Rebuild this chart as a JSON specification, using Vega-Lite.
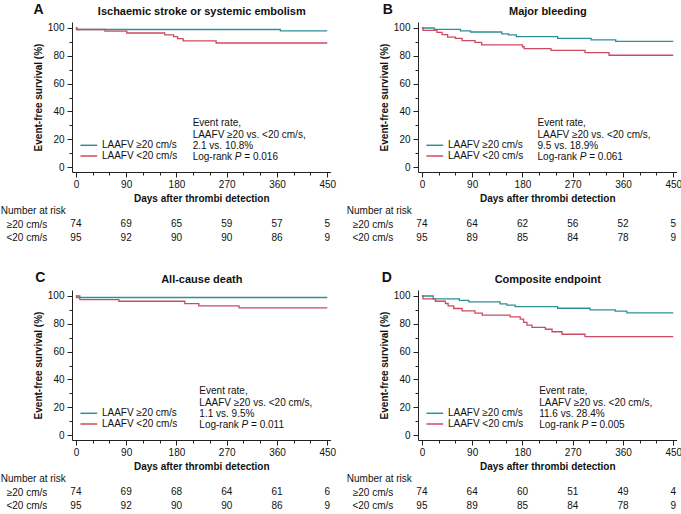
{
  "$schema": "https://vega.github.io/schema/vega-lite/v6.json",
  "padding": {"left": 0, "top": 2, "right": 0, "bottom": 0},
  "config": {
    "font": "Liberation Sans",
    "view": {"stroke": null},
    "axis": {
      "grid": false, "labelFontSize": 10, "titleFontSize": 10, "titleFontWeight": "bold",
      "domainColor": "#222", "tickColor": "#222", "labelColor": "#111", "titleColor": "#111",
      "labelFlush": false, "labelOverlap": false, "labelPadding": 2, "titlePadding": 4
    },
    "axisY": {"labelPadding": 3},
    "legend": {
      "orient": "none", "legendX": 11.8, "legendY": 118.3, "padding": 0, "rowPadding": 0.7,
      "labelFontSize": 10, "labelColor": "#111", "symbolType": "M-2,0H2", "symbolSize": 70,
      "symbolStrokeWidth": 1.5, "labelOffset": 8.1
    },
    "text": {"fontSize": 10, "color": "#111", "align": "left", "baseline": "middle"}
  },
  "datasets": {
    "km": [
      {"panel": "A", "group": "≥20 cm/s", "day": 0, "surv": 100},
      {"panel": "A", "group": "≥20 cm/s", "day": 2, "surv": 98.9},
      {"panel": "A", "group": "≥20 cm/s", "day": 366, "surv": 97.9},
      {"panel": "A", "group": "≥20 cm/s", "day": 450, "surv": 97.9},
      {"panel": "A", "group": "<20 cm/s", "day": 0, "surv": 100},
      {"panel": "A", "group": "<20 cm/s", "day": 1, "surv": 98.9},
      {"panel": "A", "group": "<20 cm/s", "day": 52, "surv": 97.7},
      {"panel": "A", "group": "<20 cm/s", "day": 91, "surv": 96.4},
      {"panel": "A", "group": "<20 cm/s", "day": 159, "surv": 95.1},
      {"panel": "A", "group": "<20 cm/s", "day": 175, "surv": 93.8},
      {"panel": "A", "group": "<20 cm/s", "day": 182, "surv": 92.3},
      {"panel": "A", "group": "<20 cm/s", "day": 192, "surv": 90.8},
      {"panel": "A", "group": "<20 cm/s", "day": 251, "surv": 89.2},
      {"panel": "A", "group": "<20 cm/s", "day": 450, "surv": 89.2},
      {"panel": "B", "group": "≥20 cm/s", "day": 0, "surv": 100},
      {"panel": "B", "group": "≥20 cm/s", "day": 22, "surv": 99},
      {"panel": "B", "group": "≥20 cm/s", "day": 69, "surv": 97.9},
      {"panel": "B", "group": "≥20 cm/s", "day": 87, "surv": 97.1},
      {"panel": "B", "group": "≥20 cm/s", "day": 143, "surv": 95.8},
      {"panel": "B", "group": "≥20 cm/s", "day": 155, "surv": 95},
      {"panel": "B", "group": "≥20 cm/s", "day": 169, "surv": 93.8},
      {"panel": "B", "group": "≥20 cm/s", "day": 243, "surv": 92.6},
      {"panel": "B", "group": "≥20 cm/s", "day": 303, "surv": 91.4},
      {"panel": "B", "group": "≥20 cm/s", "day": 347, "surv": 90.4},
      {"panel": "B", "group": "≥20 cm/s", "day": 450, "surv": 90.4},
      {"panel": "B", "group": "<20 cm/s", "day": 0, "surv": 100},
      {"panel": "B", "group": "<20 cm/s", "day": 2, "surv": 98.3},
      {"panel": "B", "group": "<20 cm/s", "day": 27, "surv": 96.9},
      {"panel": "B", "group": "<20 cm/s", "day": 36, "surv": 95.2},
      {"panel": "B", "group": "<20 cm/s", "day": 46, "surv": 93.5},
      {"panel": "B", "group": "<20 cm/s", "day": 60, "surv": 92.6},
      {"panel": "B", "group": "<20 cm/s", "day": 72, "surv": 90.9},
      {"panel": "B", "group": "<20 cm/s", "day": 95, "surv": 89.7},
      {"panel": "B", "group": "<20 cm/s", "day": 107, "surv": 87.8},
      {"panel": "B", "group": "<20 cm/s", "day": 180, "surv": 86.5},
      {"panel": "B", "group": "<20 cm/s", "day": 183, "surv": 85.2},
      {"panel": "B", "group": "<20 cm/s", "day": 231, "surv": 83.9},
      {"panel": "B", "group": "<20 cm/s", "day": 292, "surv": 82.3},
      {"panel": "B", "group": "<20 cm/s", "day": 335, "surv": 80.4},
      {"panel": "B", "group": "<20 cm/s", "day": 450, "surv": 80.4},
      {"panel": "C", "group": "≥20 cm/s", "day": 0, "surv": 100},
      {"panel": "C", "group": "≥20 cm/s", "day": 7, "surv": 98.9},
      {"panel": "C", "group": "≥20 cm/s", "day": 450, "surv": 98.9},
      {"panel": "C", "group": "<20 cm/s", "day": 0, "surv": 100},
      {"panel": "C", "group": "<20 cm/s", "day": 1, "surv": 98.9},
      {"panel": "C", "group": "<20 cm/s", "day": 7, "surv": 97.4},
      {"panel": "C", "group": "<20 cm/s", "day": 77, "surv": 96.2},
      {"panel": "C", "group": "<20 cm/s", "day": 195, "surv": 94.5},
      {"panel": "C", "group": "<20 cm/s", "day": 220, "surv": 92.9},
      {"panel": "C", "group": "<20 cm/s", "day": 292, "surv": 91.4},
      {"panel": "C", "group": "<20 cm/s", "day": 450, "surv": 91.4},
      {"panel": "D", "group": "≥20 cm/s", "day": 0, "surv": 100},
      {"panel": "D", "group": "≥20 cm/s", "day": 20, "surv": 97.9},
      {"panel": "D", "group": "≥20 cm/s", "day": 67, "surv": 96.8},
      {"panel": "D", "group": "≥20 cm/s", "day": 84, "surv": 95.7},
      {"panel": "D", "group": "≥20 cm/s", "day": 140, "surv": 94.3},
      {"panel": "D", "group": "≥20 cm/s", "day": 152, "surv": 93.4},
      {"panel": "D", "group": "≥20 cm/s", "day": 167, "surv": 92.4},
      {"panel": "D", "group": "≥20 cm/s", "day": 243, "surv": 91.2},
      {"panel": "D", "group": "≥20 cm/s", "day": 301, "surv": 90},
      {"panel": "D", "group": "≥20 cm/s", "day": 346, "surv": 89.1},
      {"panel": "D", "group": "≥20 cm/s", "day": 367, "surv": 87.9},
      {"panel": "D", "group": "≥20 cm/s", "day": 450, "surv": 87.9},
      {"panel": "D", "group": "<20 cm/s", "day": 0, "surv": 100},
      {"panel": "D", "group": "<20 cm/s", "day": 2, "surv": 97.9},
      {"panel": "D", "group": "<20 cm/s", "day": 24, "surv": 96.2},
      {"panel": "D", "group": "<20 cm/s", "day": 42, "surv": 94.6},
      {"panel": "D", "group": "<20 cm/s", "day": 47, "surv": 92.9},
      {"panel": "D", "group": "<20 cm/s", "day": 57, "surv": 91},
      {"panel": "D", "group": "<20 cm/s", "day": 72, "surv": 89.3},
      {"panel": "D", "group": "<20 cm/s", "day": 95, "surv": 87.7},
      {"panel": "D", "group": "<20 cm/s", "day": 108, "surv": 86.2},
      {"panel": "D", "group": "<20 cm/s", "day": 158, "surv": 85},
      {"panel": "D", "group": "<20 cm/s", "day": 176, "surv": 83.4},
      {"panel": "D", "group": "<20 cm/s", "day": 182, "surv": 81},
      {"panel": "D", "group": "<20 cm/s", "day": 188, "surv": 79.1},
      {"panel": "D", "group": "<20 cm/s", "day": 197, "surv": 77.5},
      {"panel": "D", "group": "<20 cm/s", "day": 221, "surv": 76.1},
      {"panel": "D", "group": "<20 cm/s", "day": 233, "surv": 74.3},
      {"panel": "D", "group": "<20 cm/s", "day": 251, "surv": 72.5},
      {"panel": "D", "group": "<20 cm/s", "day": 292, "surv": 70.8},
      {"panel": "D", "group": "<20 cm/s", "day": 450, "surv": 70.8}
    ],
    "risk": [
      {"panel": "A", "group": "≥20 cm/s", "day": 0, "n": 74},
      {"panel": "A", "group": "≥20 cm/s", "day": 90, "n": 69},
      {"panel": "A", "group": "≥20 cm/s", "day": 180, "n": 65},
      {"panel": "A", "group": "≥20 cm/s", "day": 270, "n": 59},
      {"panel": "A", "group": "≥20 cm/s", "day": 360, "n": 57},
      {"panel": "A", "group": "≥20 cm/s", "day": 450, "n": 5},
      {"panel": "A", "group": "<20 cm/s", "day": 0, "n": 95},
      {"panel": "A", "group": "<20 cm/s", "day": 90, "n": 92},
      {"panel": "A", "group": "<20 cm/s", "day": 180, "n": 90},
      {"panel": "A", "group": "<20 cm/s", "day": 270, "n": 90},
      {"panel": "A", "group": "<20 cm/s", "day": 360, "n": 86},
      {"panel": "A", "group": "<20 cm/s", "day": 450, "n": 9},
      {"panel": "B", "group": "≥20 cm/s", "day": 0, "n": 74},
      {"panel": "B", "group": "≥20 cm/s", "day": 90, "n": 64},
      {"panel": "B", "group": "≥20 cm/s", "day": 180, "n": 62},
      {"panel": "B", "group": "≥20 cm/s", "day": 270, "n": 56},
      {"panel": "B", "group": "≥20 cm/s", "day": 360, "n": 52},
      {"panel": "B", "group": "≥20 cm/s", "day": 450, "n": 5},
      {"panel": "B", "group": "<20 cm/s", "day": 0, "n": 95},
      {"panel": "B", "group": "<20 cm/s", "day": 90, "n": 89},
      {"panel": "B", "group": "<20 cm/s", "day": 180, "n": 85},
      {"panel": "B", "group": "<20 cm/s", "day": 270, "n": 84},
      {"panel": "B", "group": "<20 cm/s", "day": 360, "n": 78},
      {"panel": "B", "group": "<20 cm/s", "day": 450, "n": 9},
      {"panel": "C", "group": "≥20 cm/s", "day": 0, "n": 74},
      {"panel": "C", "group": "≥20 cm/s", "day": 90, "n": 69},
      {"panel": "C", "group": "≥20 cm/s", "day": 180, "n": 68},
      {"panel": "C", "group": "≥20 cm/s", "day": 270, "n": 64},
      {"panel": "C", "group": "≥20 cm/s", "day": 360, "n": 61},
      {"panel": "C", "group": "≥20 cm/s", "day": 450, "n": 6},
      {"panel": "C", "group": "<20 cm/s", "day": 0, "n": 95},
      {"panel": "C", "group": "<20 cm/s", "day": 90, "n": 92},
      {"panel": "C", "group": "<20 cm/s", "day": 180, "n": 90},
      {"panel": "C", "group": "<20 cm/s", "day": 270, "n": 90},
      {"panel": "C", "group": "<20 cm/s", "day": 360, "n": 86},
      {"panel": "C", "group": "<20 cm/s", "day": 450, "n": 9},
      {"panel": "D", "group": "≥20 cm/s", "day": 0, "n": 74},
      {"panel": "D", "group": "≥20 cm/s", "day": 90, "n": 64},
      {"panel": "D", "group": "≥20 cm/s", "day": 180, "n": 60},
      {"panel": "D", "group": "≥20 cm/s", "day": 270, "n": 51},
      {"panel": "D", "group": "≥20 cm/s", "day": 360, "n": 49},
      {"panel": "D", "group": "≥20 cm/s", "day": 450, "n": 4},
      {"panel": "D", "group": "<20 cm/s", "day": 0, "n": 95},
      {"panel": "D", "group": "<20 cm/s", "day": 90, "n": 89},
      {"panel": "D", "group": "<20 cm/s", "day": 180, "n": 85},
      {"panel": "D", "group": "<20 cm/s", "day": 270, "n": 84},
      {"panel": "D", "group": "<20 cm/s", "day": 360, "n": 78},
      {"panel": "D", "group": "<20 cm/s", "day": 450, "n": 9}
    ],
    "notes": [
      {"panel": "A", "letter": "A", "rate": "2.1 vs. 10.8%", "p": "= 0.016"},
      {"panel": "B", "letter": "B", "rate": "9.5 vs. 18.9%", "p": "= 0.061"},
      {"panel": "C", "letter": "C", "rate": "1.1 vs. 9.5%", "p": "= 0.011"},
      {"panel": "D", "letter": "D", "rate": "11.6 vs. 28.4%", "p": "= 0.005"}
    ]
  },
  "spacing": 25,
  "resolve": {"scale": {"color": "independent"}, "legend": {"color": "independent"}},
  "vconcat": [
    {
      "spacing": 10,
      "resolve": {"scale": {"color": "independent"}, "legend": {"color": "independent"}},
      "hconcat": [
        {
          "spacing": 1,
          "resolve": {"scale": {"color": "independent"}, "legend": {"color": "independent"}},
          "vconcat": [
            {
              "width": 258.6, "height": 150,
              "resolve": {"axis": {"x": "independent", "y": "independent"}},
              "layer": [
                {
                  "data": {"name": "km"},
                  "transform": [{"filter": "datum.panel == 'A'"}],
                  "mark": {"type": "line", "interpolate": "step-after", "strokeWidth": 1.3},
                  "encoding": {
                    "x": {"field": "day", "type": "quantitative", "scale": {"domain": [-7, 456], "nice": false, "zero": false},
                      "axis": {"values": [0, 30, 60, 90, 120, 150, 180, 210, 240, 270, 300, 330, 360, 390, 420, 450], "labelExpr": "datum.value % 90 === 0 ? datum.label : ''", "tickSize": {"condition": {"test": "datum.value % 90 === 0", "value": 5}, "value": 3}, "title": "Days after thrombi detection"}},
                    "y": {"field": "surv", "type": "quantitative", "scale": {"domain": [-3.5, 104.3], "nice": false, "zero": false},
                      "axis": {"values": [0, 10, 20, 30, 40, 50, 60, 70, 80, 90, 100], "labelExpr": "datum.value % 20 === 0 ? datum.label : ''", "tickSize": {"condition": {"test": "datum.value % 20 === 0", "value": 5}, "value": 3}, "title": "Event-free survival (%)"}},
                    "color": {"field": "group", "type": "nominal", "scale": {"domain": ["≥20 cm/s", "<20 cm/s"], "range": ["#2f8f99", "#cc4b62"]}, "legend": {"title": null, "labelExpr": "'LAAFV ' + datum.label"}}
                  }
                },
                {
                  "data": {"name": "notes"}, "transform": [{"filter": "datum.panel == 'A'"}],
                  "mark": {"type": "text", "fontSize": 14, "fontWeight": "bold"},
                  "encoding": {
                    "x": {"datum": -76, "type": "quantitative", "axis": {"orient": "top", "domain": false, "ticks": false, "labels": false, "title": "Ischaemic stroke or systemic embolism", "titleFontSize": 11, "titlePadding": 6}},
                    "y": {"datum": 113.2, "type": "quantitative", "axis": null},
                    "text": {"field": "letter"}
                  }
                },
                {
                  "data": {"name": "notes"}, "transform": [{"filter": "datum.panel == 'A'"}],
                  "mark": {"type": "text", "text": "Event rate,"},
                  "encoding": {"x": {"datum": 209, "type": "quantitative", "axis": null}, "y": {"datum": 31.5, "type": "quantitative", "axis": null}}
                },
                {
                  "data": {"name": "notes"}, "transform": [{"filter": "datum.panel == 'A'"}],
                  "mark": {"type": "text", "text": "LAAFV ≥20 vs. <20 cm/s,"},
                  "encoding": {"x": {"datum": 209, "type": "quantitative", "axis": null}, "y": {"datum": 23.4, "type": "quantitative", "axis": null}}
                },
                {
                  "data": {"name": "notes"}, "transform": [{"filter": "datum.panel == 'A'"}],
                  "mark": {"type": "text"},
                  "encoding": {"x": {"datum": 209, "type": "quantitative", "axis": null}, "y": {"datum": 15.2, "type": "quantitative", "axis": null}, "text": {"field": "rate"}}
                },
                {
                  "data": {"name": "notes"}, "transform": [{"filter": "datum.panel == 'A'"}],
                  "mark": {"type": "text", "text": "Log-rank"},
                  "encoding": {"x": {"datum": 209, "type": "quantitative", "axis": null}, "y": {"datum": 7.2, "type": "quantitative", "axis": null}}
                },
                {
                  "data": {"name": "notes"}, "transform": [{"filter": "datum.panel == 'A'"}],
                  "mark": {"type": "text", "text": "P", "fontStyle": "italic", "dx": 42.2},
                  "encoding": {"x": {"datum": 209, "type": "quantitative", "axis": null}, "y": {"datum": 7.2, "type": "quantitative", "axis": null}}
                },
                {
                  "data": {"name": "notes"}, "transform": [{"filter": "datum.panel == 'A'"}],
                  "mark": {"type": "text", "dx": 51.7},
                  "encoding": {"x": {"datum": 209, "type": "quantitative", "axis": null}, "y": {"datum": 7.2, "type": "quantitative", "axis": null}, "text": {"field": "p"}}
                }
              ]
            },
            {
              "width": 258.6, "height": 40.2,
              "data": {"name": "risk"}, "transform": [{"filter": "datum.panel == 'A'"}],
              "mark": {"type": "text", "align": "center"},
              "encoding": {
                "x": {"field": "day", "type": "quantitative", "scale": {"domain": [-7, 456], "nice": false, "zero": false}, "axis": null},
                "y": {"field": "group", "type": "nominal", "scale": {"type": "point", "domain": ["Number at risk", "≥20 cm/s", "<20 cm/s"], "padding": 0.5},
                  "axis": {"title": null, "domain": false, "ticks": false, "tickSize": 0,
                    "labelAlign": {"condition": {"test": "datum.value === 'Number at risk'", "value": "left"}, "value": "right"},
                    "labelPadding": {"condition": {"test": "datum.value === 'Number at risk'", "value": 71.7}, "value": 25.2}}},
                "text": {"field": "n", "type": "quantitative"}
              }
            }
          ]
        },
        {
          "spacing": 1,
          "resolve": {"scale": {"color": "independent"}, "legend": {"color": "independent"}},
          "vconcat": [
            {
              "width": 258.6, "height": 150,
              "resolve": {"axis": {"x": "independent", "y": "independent"}},
              "layer": [
                {
                  "data": {"name": "km"},
                  "transform": [{"filter": "datum.panel == 'B'"}],
                  "mark": {"type": "line", "interpolate": "step-after", "strokeWidth": 1.3},
                  "encoding": {
                    "x": {"field": "day", "type": "quantitative", "scale": {"domain": [-7, 456], "nice": false, "zero": false},
                      "axis": {"values": [0, 30, 60, 90, 120, 150, 180, 210, 240, 270, 300, 330, 360, 390, 420, 450], "labelExpr": "datum.value % 90 === 0 ? datum.label : ''", "tickSize": {"condition": {"test": "datum.value % 90 === 0", "value": 5}, "value": 3}, "title": "Days after thrombi detection"}},
                    "y": {"field": "surv", "type": "quantitative", "scale": {"domain": [-3.5, 104.3], "nice": false, "zero": false},
                      "axis": {"values": [0, 10, 20, 30, 40, 50, 60, 70, 80, 90, 100], "labelExpr": "datum.value % 20 === 0 ? datum.label : ''", "tickSize": {"condition": {"test": "datum.value % 20 === 0", "value": 5}, "value": 3}, "title": "Event-free survival (%)"}},
                    "color": {"field": "group", "type": "nominal", "scale": {"domain": ["≥20 cm/s", "<20 cm/s"], "range": ["#2f8f99", "#cc4b62"]}, "legend": {"title": null, "labelExpr": "'LAAFV ' + datum.label"}}
                  }
                },
                {
                  "data": {"name": "notes"}, "transform": [{"filter": "datum.panel == 'B'"}],
                  "mark": {"type": "text", "fontSize": 14, "fontWeight": "bold"},
                  "encoding": {
                    "x": {"datum": -70, "type": "quantitative", "axis": {"orient": "top", "domain": false, "ticks": false, "labels": false, "title": "Major bleeding", "titleFontSize": 11, "titlePadding": 6}},
                    "y": {"datum": 113.2, "type": "quantitative", "axis": null},
                    "text": {"field": "letter"}
                  }
                },
                {
                  "data": {"name": "notes"}, "transform": [{"filter": "datum.panel == 'B'"}],
                  "mark": {"type": "text", "text": "Event rate,"},
                  "encoding": {"x": {"datum": 207, "type": "quantitative", "axis": null}, "y": {"datum": 31.5, "type": "quantitative", "axis": null}}
                },
                {
                  "data": {"name": "notes"}, "transform": [{"filter": "datum.panel == 'B'"}],
                  "mark": {"type": "text", "text": "LAAFV ≥20 vs. <20 cm/s,"},
                  "encoding": {"x": {"datum": 207, "type": "quantitative", "axis": null}, "y": {"datum": 23.4, "type": "quantitative", "axis": null}}
                },
                {
                  "data": {"name": "notes"}, "transform": [{"filter": "datum.panel == 'B'"}],
                  "mark": {"type": "text"},
                  "encoding": {"x": {"datum": 207, "type": "quantitative", "axis": null}, "y": {"datum": 15.2, "type": "quantitative", "axis": null}, "text": {"field": "rate"}}
                },
                {
                  "data": {"name": "notes"}, "transform": [{"filter": "datum.panel == 'B'"}],
                  "mark": {"type": "text", "text": "Log-rank"},
                  "encoding": {"x": {"datum": 207, "type": "quantitative", "axis": null}, "y": {"datum": 7.2, "type": "quantitative", "axis": null}}
                },
                {
                  "data": {"name": "notes"}, "transform": [{"filter": "datum.panel == 'B'"}],
                  "mark": {"type": "text", "text": "P", "fontStyle": "italic", "dx": 42.2},
                  "encoding": {"x": {"datum": 207, "type": "quantitative", "axis": null}, "y": {"datum": 7.2, "type": "quantitative", "axis": null}}
                },
                {
                  "data": {"name": "notes"}, "transform": [{"filter": "datum.panel == 'B'"}],
                  "mark": {"type": "text", "dx": 51.7},
                  "encoding": {"x": {"datum": 207, "type": "quantitative", "axis": null}, "y": {"datum": 7.2, "type": "quantitative", "axis": null}, "text": {"field": "p"}}
                }
              ]
            },
            {
              "width": 258.6, "height": 40.2,
              "data": {"name": "risk"}, "transform": [{"filter": "datum.panel == 'B'"}],
              "mark": {"type": "text", "align": "center"},
              "encoding": {
                "x": {"field": "day", "type": "quantitative", "scale": {"domain": [-7, 456], "nice": false, "zero": false}, "axis": null},
                "y": {"field": "group", "type": "nominal", "scale": {"type": "point", "domain": ["Number at risk", "≥20 cm/s", "<20 cm/s"], "padding": 0.5},
                  "axis": {"title": null, "domain": false, "ticks": false, "tickSize": 0,
                    "labelAlign": {"condition": {"test": "datum.value === 'Number at risk'", "value": "left"}, "value": "right"},
                    "labelPadding": {"condition": {"test": "datum.value === 'Number at risk'", "value": 71.7}, "value": 25.2}}},
                "text": {"field": "n", "type": "quantitative"}
              }
            }
          ]
        }
      ]
    },
    {
      "spacing": 10,
      "resolve": {"scale": {"color": "independent"}, "legend": {"color": "independent"}},
      "hconcat": [
        {
          "spacing": 1,
          "resolve": {"scale": {"color": "independent"}, "legend": {"color": "independent"}},
          "vconcat": [
            {
              "width": 258.6, "height": 150,
              "resolve": {"axis": {"x": "independent", "y": "independent"}},
              "layer": [
                {
                  "data": {"name": "km"},
                  "transform": [{"filter": "datum.panel == 'C'"}],
                  "mark": {"type": "line", "interpolate": "step-after", "strokeWidth": 1.3},
                  "encoding": {
                    "x": {"field": "day", "type": "quantitative", "scale": {"domain": [-7, 456], "nice": false, "zero": false},
                      "axis": {"values": [0, 30, 60, 90, 120, 150, 180, 210, 240, 270, 300, 330, 360, 390, 420, 450], "labelExpr": "datum.value % 90 === 0 ? datum.label : ''", "tickSize": {"condition": {"test": "datum.value % 90 === 0", "value": 5}, "value": 3}, "title": "Days after thrombi detection"}},
                    "y": {"field": "surv", "type": "quantitative", "scale": {"domain": [-3.5, 104.3], "nice": false, "zero": false},
                      "axis": {"values": [0, 10, 20, 30, 40, 50, 60, 70, 80, 90, 100], "labelExpr": "datum.value % 20 === 0 ? datum.label : ''", "tickSize": {"condition": {"test": "datum.value % 20 === 0", "value": 5}, "value": 3}, "title": "Event-free survival (%)"}},
                    "color": {"field": "group", "type": "nominal", "scale": {"domain": ["≥20 cm/s", "<20 cm/s"], "range": ["#2f8f99", "#cc4b62"]}, "legend": {"title": null, "labelExpr": "'LAAFV ' + datum.label"}}
                  }
                },
                {
                  "data": {"name": "notes"}, "transform": [{"filter": "datum.panel == 'C'"}],
                  "mark": {"type": "text", "fontSize": 14, "fontWeight": "bold"},
                  "encoding": {
                    "x": {"datum": -73, "type": "quantitative", "axis": {"orient": "top", "domain": false, "ticks": false, "labels": false, "title": "All-cause death", "titleFontSize": 11, "titlePadding": 6}},
                    "y": {"datum": 113.2, "type": "quantitative", "axis": null},
                    "text": {"field": "letter"}
                  }
                },
                {
                  "data": {"name": "notes"}, "transform": [{"filter": "datum.panel == 'C'"}],
                  "mark": {"type": "text", "text": "Event rate,"},
                  "encoding": {"x": {"datum": 221, "type": "quantitative", "axis": null}, "y": {"datum": 31.5, "type": "quantitative", "axis": null}}
                },
                {
                  "data": {"name": "notes"}, "transform": [{"filter": "datum.panel == 'C'"}],
                  "mark": {"type": "text", "text": "LAAFV ≥20 vs. <20 cm/s,"},
                  "encoding": {"x": {"datum": 221, "type": "quantitative", "axis": null}, "y": {"datum": 23.4, "type": "quantitative", "axis": null}}
                },
                {
                  "data": {"name": "notes"}, "transform": [{"filter": "datum.panel == 'C'"}],
                  "mark": {"type": "text"},
                  "encoding": {"x": {"datum": 221, "type": "quantitative", "axis": null}, "y": {"datum": 15.2, "type": "quantitative", "axis": null}, "text": {"field": "rate"}}
                },
                {
                  "data": {"name": "notes"}, "transform": [{"filter": "datum.panel == 'C'"}],
                  "mark": {"type": "text", "text": "Log-rank"},
                  "encoding": {"x": {"datum": 221, "type": "quantitative", "axis": null}, "y": {"datum": 7.2, "type": "quantitative", "axis": null}}
                },
                {
                  "data": {"name": "notes"}, "transform": [{"filter": "datum.panel == 'C'"}],
                  "mark": {"type": "text", "text": "P", "fontStyle": "italic", "dx": 42.2},
                  "encoding": {"x": {"datum": 221, "type": "quantitative", "axis": null}, "y": {"datum": 7.2, "type": "quantitative", "axis": null}}
                },
                {
                  "data": {"name": "notes"}, "transform": [{"filter": "datum.panel == 'C'"}],
                  "mark": {"type": "text", "dx": 51.7},
                  "encoding": {"x": {"datum": 221, "type": "quantitative", "axis": null}, "y": {"datum": 7.2, "type": "quantitative", "axis": null}, "text": {"field": "p"}}
                }
              ]
            },
            {
              "width": 258.6, "height": 40.2,
              "data": {"name": "risk"}, "transform": [{"filter": "datum.panel == 'C'"}],
              "mark": {"type": "text", "align": "center"},
              "encoding": {
                "x": {"field": "day", "type": "quantitative", "scale": {"domain": [-7, 456], "nice": false, "zero": false}, "axis": null},
                "y": {"field": "group", "type": "nominal", "scale": {"type": "point", "domain": ["Number at risk", "≥20 cm/s", "<20 cm/s"], "padding": 0.5},
                  "axis": {"title": null, "domain": false, "ticks": false, "tickSize": 0,
                    "labelAlign": {"condition": {"test": "datum.value === 'Number at risk'", "value": "left"}, "value": "right"},
                    "labelPadding": {"condition": {"test": "datum.value === 'Number at risk'", "value": 71.7}, "value": 25.2}}},
                "text": {"field": "n", "type": "quantitative"}
              }
            }
          ]
        },
        {
          "spacing": 1,
          "resolve": {"scale": {"color": "independent"}, "legend": {"color": "independent"}},
          "vconcat": [
            {
              "width": 258.6, "height": 150,
              "resolve": {"axis": {"x": "independent", "y": "independent"}},
              "layer": [
                {
                  "data": {"name": "km"},
                  "transform": [{"filter": "datum.panel == 'D'"}],
                  "mark": {"type": "line", "interpolate": "step-after", "strokeWidth": 1.3},
                  "encoding": {
                    "x": {"field": "day", "type": "quantitative", "scale": {"domain": [-7, 456], "nice": false, "zero": false},
                      "axis": {"values": [0, 30, 60, 90, 120, 150, 180, 210, 240, 270, 300, 330, 360, 390, 420, 450], "labelExpr": "datum.value % 90 === 0 ? datum.label : ''", "tickSize": {"condition": {"test": "datum.value % 90 === 0", "value": 5}, "value": 3}, "title": "Days after thrombi detection"}},
                    "y": {"field": "surv", "type": "quantitative", "scale": {"domain": [-3.5, 104.3], "nice": false, "zero": false},
                      "axis": {"values": [0, 10, 20, 30, 40, 50, 60, 70, 80, 90, 100], "labelExpr": "datum.value % 20 === 0 ? datum.label : ''", "tickSize": {"condition": {"test": "datum.value % 20 === 0", "value": 5}, "value": 3}, "title": "Event-free survival (%)"}},
                    "color": {"field": "group", "type": "nominal", "scale": {"domain": ["≥20 cm/s", "<20 cm/s"], "range": ["#2f8f99", "#cc4b62"]}, "legend": {"title": null, "labelExpr": "'LAAFV ' + datum.label"}}
                  }
                },
                {
                  "data": {"name": "notes"}, "transform": [{"filter": "datum.panel == 'D'"}],
                  "mark": {"type": "text", "fontSize": 14, "fontWeight": "bold"},
                  "encoding": {
                    "x": {"datum": -72, "type": "quantitative", "axis": {"orient": "top", "domain": false, "ticks": false, "labels": false, "title": "Composite endpoint", "titleFontSize": 11, "titlePadding": 6}},
                    "y": {"datum": 113.2, "type": "quantitative", "axis": null},
                    "text": {"field": "letter"}
                  }
                },
                {
                  "data": {"name": "notes"}, "transform": [{"filter": "datum.panel == 'D'"}],
                  "mark": {"type": "text", "text": "Event rate,"},
                  "encoding": {"x": {"datum": 210, "type": "quantitative", "axis": null}, "y": {"datum": 31.5, "type": "quantitative", "axis": null}}
                },
                {
                  "data": {"name": "notes"}, "transform": [{"filter": "datum.panel == 'D'"}],
                  "mark": {"type": "text", "text": "LAAFV ≥20 vs. <20 cm/s,"},
                  "encoding": {"x": {"datum": 210, "type": "quantitative", "axis": null}, "y": {"datum": 23.4, "type": "quantitative", "axis": null}}
                },
                {
                  "data": {"name": "notes"}, "transform": [{"filter": "datum.panel == 'D'"}],
                  "mark": {"type": "text"},
                  "encoding": {"x": {"datum": 210, "type": "quantitative", "axis": null}, "y": {"datum": 15.2, "type": "quantitative", "axis": null}, "text": {"field": "rate"}}
                },
                {
                  "data": {"name": "notes"}, "transform": [{"filter": "datum.panel == 'D'"}],
                  "mark": {"type": "text", "text": "Log-rank"},
                  "encoding": {"x": {"datum": 210, "type": "quantitative", "axis": null}, "y": {"datum": 7.2, "type": "quantitative", "axis": null}}
                },
                {
                  "data": {"name": "notes"}, "transform": [{"filter": "datum.panel == 'D'"}],
                  "mark": {"type": "text", "text": "P", "fontStyle": "italic", "dx": 42.2},
                  "encoding": {"x": {"datum": 210, "type": "quantitative", "axis": null}, "y": {"datum": 7.2, "type": "quantitative", "axis": null}}
                },
                {
                  "data": {"name": "notes"}, "transform": [{"filter": "datum.panel == 'D'"}],
                  "mark": {"type": "text", "dx": 51.7},
                  "encoding": {"x": {"datum": 210, "type": "quantitative", "axis": null}, "y": {"datum": 7.2, "type": "quantitative", "axis": null}, "text": {"field": "p"}}
                }
              ]
            },
            {
              "width": 258.6, "height": 40.2,
              "data": {"name": "risk"}, "transform": [{"filter": "datum.panel == 'D'"}],
              "mark": {"type": "text", "align": "center"},
              "encoding": {
                "x": {"field": "day", "type": "quantitative", "scale": {"domain": [-7, 456], "nice": false, "zero": false}, "axis": null},
                "y": {"field": "group", "type": "nominal", "scale": {"type": "point", "domain": ["Number at risk", "≥20 cm/s", "<20 cm/s"], "padding": 0.5},
                  "axis": {"title": null, "domain": false, "ticks": false, "tickSize": 0,
                    "labelAlign": {"condition": {"test": "datum.value === 'Number at risk'", "value": "left"}, "value": "right"},
                    "labelPadding": {"condition": {"test": "datum.value === 'Number at risk'", "value": 71.7}, "value": 25.2}}},
                "text": {"field": "n", "type": "quantitative"}
              }
            }
          ]
        }
      ]
    }
  ]
}
